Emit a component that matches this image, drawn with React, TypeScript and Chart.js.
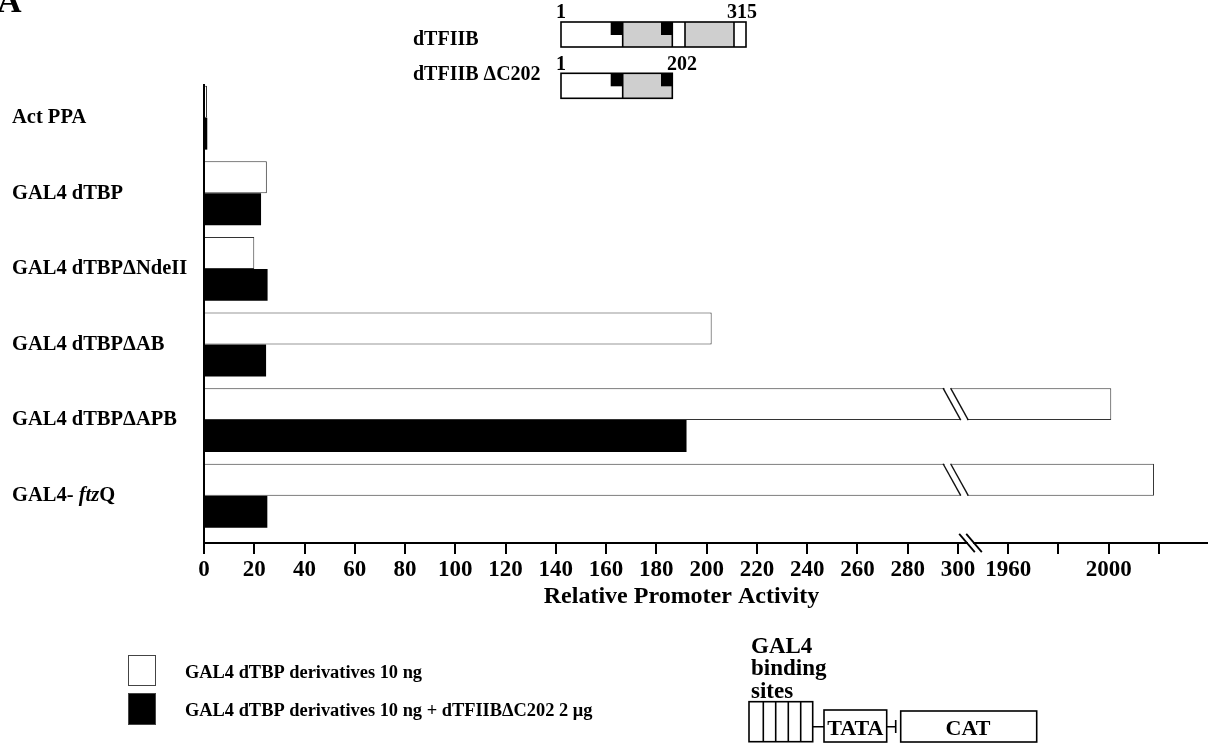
import React, { useEffect, useRef } from 'react';
import { Chart, registerables } from 'chart.js';

Chart.register(...registerables);

// ---------------- data ----------------
const categories = [
  'Act PPA',
  'GAL4 dTBP',
  'GAL4 dTBPΔNdeII',
  'GAL4 dTBPΔAB',
  'GAL4 dTBPΔAPB',
  'GAL4- ftzQ',
];
const seriesNames = [
  'GAL4 dTBP derivatives 10 ng',
  'GAL4 dTBP derivatives 10 ng + dTFIIBΔC202 2 μg',
];
const derivatives10ng = [1.2, 25, 20, 202, 2001, 2018];
const plusTFIIB = [1.3, 22.7, 25.3, 24.7, 192, 25.2];

const lowTicks = [0, 20, 40, 60, 80, 100, 120, 140, 160, 180, 200, 220, 240, 260, 280, 300];
const highTicks = [1960, 1980, 2000, 2020];
const highTickLabels = ['1960', '', '2000', ''];
const axisTitle = 'Relative Promoter Activity';

// broken-axis mapping
const BREAK_FROM = 300;
const RESUME_AT = 1960;
const BREAK_WIDTH = 20;
const OFFSET = RESUME_AT - BREAK_FROM - BREAK_WIDTH;
const toAxis = (v: number) => (v <= BREAK_FROM ? v : v - OFFSET);
const fromAxis = (a: number) => (a <= BREAK_FROM + 0.001 ? a : a + OFFSET);

const SERIF = '"Liberation Serif", "Times New Roman", serif';

// decoration geometry (not data)
const BAR_BREAK = [297.6, 300.6];
const AXIS_BREAK = [303.6, 306.4];
const Y_MIN = -0.4325;
const Y_MAX = 5.6257;

const decorPlugin = {
  id: 'decor',
  afterDatasetsDraw(chart: any) {
    const ctx = chart.ctx;
    const xs = chart.scales.x;
    const meta = chart.getDatasetMeta(0);
    meta.data.forEach((bar: any, i: number) => {
      if (derivatives10ng[i] <= BREAK_FROM) return;
      const { y, height } = bar.getProps(['y', 'height'], true);
      const top = y - height / 2;
      const bottom = y + height / 2;
      const half = height * 0.277;
      const p1 = xs.getPixelForValue(BAR_BREAK[0]);
      const p2 = xs.getPixelForValue(BAR_BREAK[1]);
      ctx.save();
      ctx.fillStyle = '#fff';
      ctx.beginPath();
      ctx.moveTo(p1 - half + 0.5, top - 2);
      ctx.lineTo(p2 - half - 0.5, top - 2);
      ctx.lineTo(p2 + half - 0.5, bottom + 1);
      ctx.lineTo(p1 + half + 0.5, bottom + 1);
      ctx.closePath();
      ctx.fill();
      ctx.strokeStyle = '#111';
      ctx.lineWidth = 1.4;
      [p1, p2].forEach((p) => {
        ctx.beginPath();
        ctx.moveTo(p - half, top);
        ctx.lineTo(p + half, bottom);
        ctx.stroke();
      });
      ctx.restore();
    });
  },
  afterDraw(chart: any) {
    const ctx = chart.ctx;
    const xs = chart.scales.x;
    const ys = chart.scales.y;
    ctx.save();

    // axis line extension beyond last tick
    const ay = xs.top;
    ctx.strokeStyle = '#000';
    ctx.lineWidth = 2;
    ctx.beginPath();
    ctx.moveTo(xs.right - 1, ay);
    ctx.lineTo(chart.width - 1, ay);
    ctx.stroke();

    // axis break
    const a1 = xs.getPixelForValue(AXIS_BREAK[0]);
    const a2 = xs.getPixelForValue(AXIS_BREAK[1]);
    ctx.fillStyle = '#fff';
    ctx.fillRect(a1 + 1, ay - 2, a2 - a1 - 2, 4);
    ctx.lineWidth = 1.8;
    [a1, a2].forEach((a) => {
      ctx.beginPath();
      ctx.moveTo(a - 7.8, ay - 9.2);
      ctx.lineTo(a + 7.8, ay + 9.2);
      ctx.stroke();
    });

    // mixed-style tick label for GAL4-ftzQ
    const idx = categories.length - 1;
    const ly = ys.getPixelForValue(idx);
    ctx.fillStyle = '#000';
    ctx.textBaseline = 'middle';
    ctx.textAlign = 'left';
    let lx = ys.left;
    ctx.font = `bold 20.5px ${SERIF}`;
    ctx.fillText('GAL4- ', lx, ly);
    lx += ctx.measureText('GAL4- ').width;
    ctx.font = `italic bold 20.5px ${SERIF}`;
    ctx.fillText('ftz', lx, ly);
    lx += ctx.measureText('ftz').width;
    ctx.font = `bold 20.5px ${SERIF}`;
    ctx.fillText('Q', lx, ly);

    // legend (vertical, bottom left)
    const legendBoxes = [
      { x: 128, y: 655, w: 28, h: 31, ty: 673 },
      { x: 128, y: 693, w: 28, h: 32, ty: 711.5 },
    ];
    chart.data.datasets.forEach((ds: any, i: number) => {
      const b = legendBoxes[i];
      ctx.fillStyle = ds.backgroundColor;
      ctx.fillRect(b.x, b.y, b.w, b.h);
      ctx.strokeStyle = '#444';
      ctx.lineWidth = 1;
      ctx.strokeRect(b.x + 0.5, b.y + 0.5, b.w - 1, b.h - 1);
      ctx.fillStyle = '#000';
      ctx.font = `bold 18.4px ${SERIF}`;
      ctx.textBaseline = 'middle';
      ctx.fillText(ds.label, 185, b.ty);
    });

    // panel letter
    ctx.font = `bold 34px ${SERIF}`;
    ctx.textBaseline = 'alphabetic';
    ctx.fillText('A', -3, 12);

    // dTFIIB domain diagrams
    ctx.font = `bold 20px ${SERIF}`;
    ctx.fillText('dTFIIB', 413, 45);
    ctx.fillText('dTFIIB ΔC202', 413, 80);
    ctx.fillText('1', 556, 18);
    ctx.fillText('315', 727, 18);
    ctx.fillText('1', 556, 70);
    ctx.fillText('202', 667, 70);

    const grey = '#cfcfcf';
    const drawDomainBox = (top: number, bottom: number, right: number, full: boolean) => {
      const mid = top + (bottom - top) * 0.52;
      ctx.fillStyle = '#fff';
      ctx.fillRect(561, top, right - 561, bottom - top);
      ctx.fillStyle = grey;
      ctx.fillRect(622.7, top, 672.3 - 622.7, bottom - top);
      if (full) ctx.fillRect(685, top, 734 - 685, bottom - top);
      ctx.fillStyle = '#000';
      ctx.fillRect(610.7, top, 12, mid - top);
      ctx.fillRect(661, top, 11.3, mid - top);
      ctx.strokeStyle = '#000';
      ctx.lineWidth = 1.6;
      ctx.strokeRect(561, top, right - 561, bottom - top);
      const lines = full ? [622.7, 672.3, 685, 734] : [622.7];
      lines.forEach((lx2) => {
        ctx.beginPath();
        ctx.moveTo(lx2, top);
        ctx.lineTo(lx2, bottom);
        ctx.stroke();
      });
    };
    drawDomainBox(22, 47, 746, true);
    drawDomainBox(73.3, 98.3, 672.3, false);

    // reporter construct diagram
    ctx.fillStyle = '#000';
    ctx.font = `bold 23px ${SERIF}`;
    ctx.fillText('GAL4', 751, 653);
    ctx.fillText('binding', 751, 675);
    ctx.fillText('sites', 751, 698);
    ctx.strokeStyle = '#000';
    ctx.lineWidth = 1.6;
    ctx.strokeRect(749, 701.7, 63.7, 40);
    [763.3, 775.7, 788.3, 800.7].forEach((vx) => {
      ctx.beginPath();
      ctx.moveTo(vx, 701.7);
      ctx.lineTo(vx, 741.7);
      ctx.stroke();
    });
    ctx.beginPath();
    ctx.moveTo(812.7, 726.7);
    ctx.lineTo(824, 726.7);
    ctx.moveTo(886.7, 726.7);
    ctx.lineTo(895.7, 726.7);
    ctx.moveTo(895.7, 720);
    ctx.lineTo(895.7, 733);
    ctx.stroke();
    ctx.strokeRect(824, 710, 62.7, 32);
    ctx.strokeRect(900.7, 711, 136, 31);
    ctx.font = `bold 22px ${SERIF}`;
    ctx.textAlign = 'center';
    ctx.fillText('TATA', 855.3, 735);
    ctx.fillText('CAT', 968, 735);

    ctx.restore();
  },
};

export default function App() {
  const canvasRef = useRef<HTMLCanvasElement | null>(null);

  useEffect(() => {
    const canvas = canvasRef.current;
    if (!canvas) return;
    const chart = new Chart(canvas, {
      type: 'bar',
      data: {
        datasets: [
          {
            label: seriesNames[0],
            data: derivatives10ng.map((v, i) => ({ x: toAxis(v), y: i })),
            backgroundColor: '#ffffff',
            borderColor: '#333333',
            borderWidth: 1,
          },
          {
            label: seriesNames[1],
            data: plusTFIIB.map((v, i) => ({ x: toAxis(v), y: i })),
            backgroundColor: '#000000',
            borderColor: '#000000',
            borderWidth: 0,
          },
        ],
      } as any,
      options: {
        animation: false,
        responsive: true,
        maintainAspectRatio: false,
        indexAxis: 'y',
        layout: { padding: { left: 12, top: 85, right: 50, bottom: 133 } },
        datasets: { bar: { categoryPercentage: 0.845, barPercentage: 1 } },
        plugins: {
          legend: { display: false },
          tooltip: { enabled: false },
        },
        scales: {
          x: {
            type: 'linear',
            position: 'bottom',
            bounds: 'data',
            offset: false,
            min: 0,
            max: toAxis(2020),
            afterBuildTicks: (s: any) => {
              s.ticks = [...lowTicks, ...highTicks.map(toAxis)].map((v) => ({ value: v }));
            },
            afterFit: (s: any) => {
              s.height = 68;
            },
            ticks: {
              autoSkip: false,
              maxRotation: 0,
              padding: 2,
              color: '#000',
              font: { family: SERIF, size: 23, weight: 'bold' },
              callback: (value: any) => {
                const v = Number(value);
                if (v <= BREAK_FROM) return String(v);
                const real = Math.round(fromAxis(v));
                const k = highTicks.indexOf(real);
                return k >= 0 ? highTickLabels[k] : '';
              },
            },
            grid: {
              offset: false,
              drawOnChartArea: false,
              drawTicks: true,
              tickLength: 11,
              color: '#000',
              lineWidth: 2,
            },
            border: { display: true, color: '#000', width: 2 },
            title: {
              display: true,
              text: axisTitle,
              color: '#000',
              padding: 0,
              font: { family: SERIF, size: 24, weight: 'bold' },
            },
          },
          y: {
            type: 'linear',
            reverse: true,
            bounds: 'data',
            offset: false,
            min: Y_MIN,
            max: Y_MAX,
            afterBuildTicks: (s: any) => {
              s.min = Y_MIN;
              s.max = Y_MAX;
              s.ticks = categories.map((_, i) => ({ value: i }));
            },
            afterFit: (s: any) => {
              s.width = 192;
            },
            ticks: {
              crossAlign: 'far',
              autoSkip: false,
              color: '#000',
              font: { family: SERIF, size: 20.5, weight: 'bold' },
              callback: (value: any) => {
                const i = Number(value);
                if (i === categories.length - 1) return '';
                return categories[i] ?? '';
              },
            },
            grid: { offset: false, drawOnChartArea: false, drawTicks: false },
            border: { display: true, color: '#000', width: 2 },
          },
        },
      } as any,
      plugins: [decorPlugin],
    });
    return () => chart.destroy();
  }, []);

  return (
    <div
      style={{
        position: 'absolute',
        left: 0,
        top: 0,
        width: 1209,
        height: 744,
        background: '#fff',
      }}
    >
      <canvas ref={canvasRef} />
    </div>
  );
}
